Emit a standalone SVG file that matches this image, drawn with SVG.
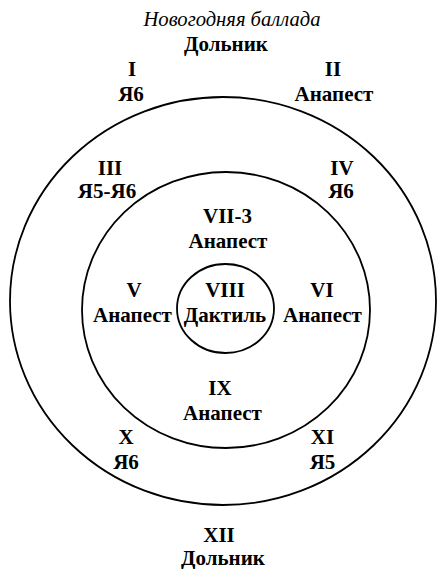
<svg xmlns="http://www.w3.org/2000/svg" width="437" height="569" viewBox="0 0 437 569">
<style>
.c{fill:none;stroke:#000;stroke-width:1.8}
text{font-family:"Liberation Serif","Times New Roman",serif;font-size:21px;fill:#000;text-anchor:middle;font-weight:bold}
.i{font-style:italic;font-weight:normal;font-size:20.6px}
</style>
<rect width="437" height="569" fill="#fff"/>
<g id="rings">
<ellipse id="outer" class="c" cx="223" cy="301" rx="213" ry="204"/>
<ellipse id="middle" class="c" cx="226" cy="310" rx="144" ry="138"/>
<ellipse id="inner" class="c" cx="225.5" cy="308.5" rx="48.5" ry="44.5"/>
</g>
<g id="connectors"></g>
<g id="title"><text class="i" x="232" y="25.5">Новогодняя баллада</text>
<text x="226" y="50.5">Дольник</text></g>
<g id="n1"><text x="132" y="76">I</text><text x="131" y="101">Я6</text></g>
<g id="n2"><text x="333" y="76">II</text><text x="334" y="101">Анапест</text></g>
<g id="n3"><text x="110" y="175">III</text><text x="107" y="198">Я5-Я6</text></g>
<g id="n4"><text x="342" y="175">IV</text><text x="341" y="198">Я6</text></g>
<g id="n7"><text x="227.5" y="223">VII-3</text><text x="228" y="248">Анапест</text></g>
<g id="n5"><text x="134" y="297">V</text><text x="132.5" y="322">Анапест</text></g>
<g id="n8"><text x="225" y="297">VIII</text><text x="225" y="322">Дактиль</text></g>
<g id="n6"><text x="322" y="297">VI</text><text x="322.5" y="322">Анапест</text></g>
<g id="n9"><text x="220" y="395">IX</text><text x="222.5" y="420">Анапест</text></g>
<g id="n10"><text x="126" y="444">X</text><text x="126" y="469">Я6</text></g>
<g id="n11"><text x="322.5" y="444">XI</text><text x="322.5" y="469">Я5</text></g>
<g id="n12"><text x="219" y="542">XII</text><text x="223" y="565">Дольник</text></g>
</svg>
